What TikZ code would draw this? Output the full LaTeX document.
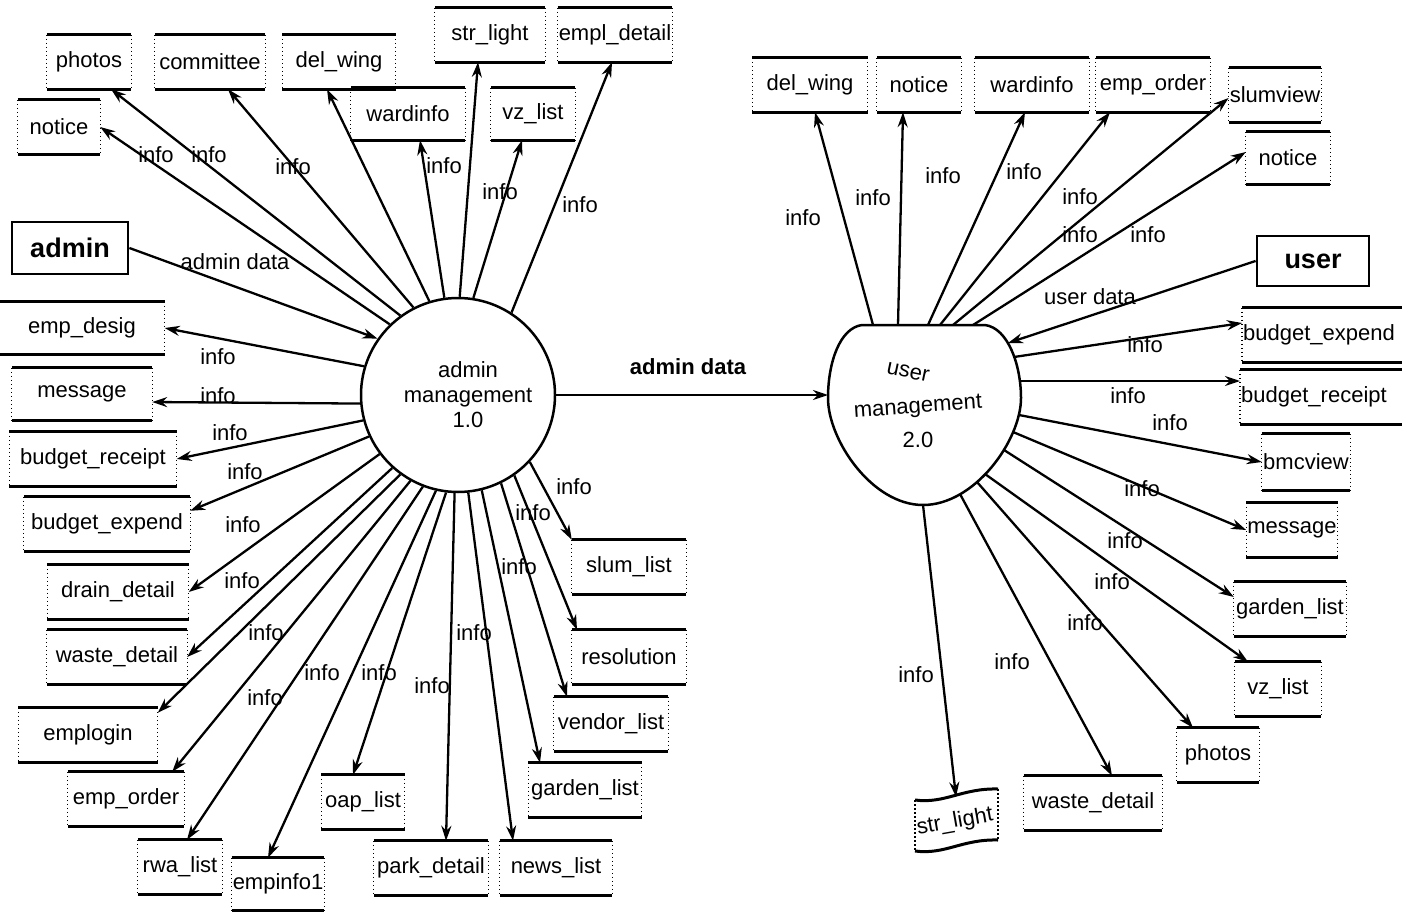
\documentclass[tikz,border=0pt]{standalone}
\usepackage{fontspec}
\setmainfont{Liberation Sans}
\usetikzlibrary{arrows.meta}
\newcommand{\dfont}{\fontsize{22}{25}\selectfont}
\newcommand{\extfont}{\fontsize{27}{30}\selectfont\bfseries}
\begin{document}
\begin{tikzpicture}[x=1pt,y=-1pt,
  storeline/.style={draw, line width=3pt},
  storeside/.style={draw, line width=1.2pt, dash pattern=on 1.5pt off 2.5pt},
  store/.style={font=\dfont, minimum height=54pt, inner xsep=1pt, inner ysep=0pt,
    append after command={
      (\tikzlastnode.north west) edge[storeline] (\tikzlastnode.north east)
      (\tikzlastnode.south west) edge[storeline] (\tikzlastnode.south east)
      (\tikzlastnode.north west) edge[storeside] (\tikzlastnode.south west)
      (\tikzlastnode.north east) edge[storeside] (\tikzlastnode.south east)}},
  ext/.style={draw, line width=2.8pt, font=\extfont, minimum height=52pt, inner sep=0pt},
  flow/.style={draw, line width=2.3pt, -{Stealth[length=15pt,width=10pt]}},
  lbl/.style={font=\dfont, inner sep=0pt}]
\fill[white] (0,0) rectangle (1402,912);
\useasboundingbox (0,0) rectangle (1402,912);

% ---------- admin management ----------
\node[circle, draw, line width=2.5pt, minimum size=194pt, inner sep=0pt] (adm) at (458,395) {};
\node[font=\dfont, align=center, inner sep=0pt] (admtext) at (468,395) {admin\\management\\1.0};

\node[store,minimum width=84pt] (photos) at (89,62) {photos};
\node[store,minimum width=110pt] (committee) at (210,62) {committee};
\node[store,minimum width=113pt] (delwing) at (339,62) {del\_wing};
\node[store,minimum width=110pt] (strlight) at (490,35) {str\_light};
\node[store,minimum width=114pt] (empldetail) at (615,35) {empl\_detail};
\node[store,minimum width=82pt] (notice) at (59,127) {notice};
\node[store,minimum width=114pt,minimum height=52pt] (wardinfo) at (408,114) {wardinfo};
\node[store,minimum width=84pt,minimum height=52pt] (vzlist) at (533,114) {vz\_list};
\node[ext,minimum width=116pt] (admin) at (70,248) {admin};
\node[store,minimum width=165pt,minimum height=52pt] (empdesig) at (82,328) {emp\_desig};
\node[store,minimum width=140pt,minimum height=52pt] (message) at (82,394) {message};
\node[store,minimum width=167pt] (breceipt) at (93,459) {budget\_receipt};
\node[store,minimum width=166pt] (bexpend) at (107,524) {budget\_expend};
\node[store,minimum width=141pt] (drain) at (118,592) {drain\_detail};
\node[store,minimum width=140pt] (waste) at (117,657) {waste\_detail};
\node[store,minimum width=139pt] (emplogin) at (88,735) {emplogin};
\node[store,minimum width=116pt] (emporder) at (126,799) {emp\_order};
\node[store,minimum width=84pt] (rwalist) at (180,867) {rwa\_list};
\node[store,minimum width=88pt,minimum height=52pt] (empinfo) at (278,884) {empinfo1};
\node[store,minimum width=83pt] (oaplist) at (363,802) {oap\_list};
\node[store,minimum width=114pt] (parkdetail) at (431,868) {park\_detail};
\node[store,minimum width=112pt] (newslist) at (556,868) {news\_list};
\node[store,minimum width=113pt] (gardenlist) at (585,790) {garden\_list};
\node[store,minimum width=114pt] (vendorlist) at (611,724) {vendor\_list};
\node[store,minimum width=114pt] (resolution) at (629,657) {resolution};
\node[store,minimum width=114pt] (slumlist) at (629,567) {slum\_list};

\draw[flow] (adm.126) -- ([xshift=22pt]photos.south);
\draw[flow] (adm.134) -- (notice.east);
\draw[flow] (adm.117) -- ([xshift=18pt]committee.south);
\draw[flow] (adm.107) -- ([xshift=-12pt]delwing.south);
\draw[flow] (adm.98) -- ([xshift=12pt]wardinfo.south);
\draw[flow] (adm.89) -- ([xshift=-12pt]strlight.south);
\draw[flow] (adm.81) -- ([xshift=-11pt]vzlist.south);
\draw[flow] (adm.57) -- ([xshift=-3pt]empldetail.south);
\draw[flow] (admin.east) -- (adm.145);
\draw[flow] (adm.163) -- (empdesig.east);
\draw[flow] (adm.185) -- ([yshift=-8pt]message.east);
\draw[flow] (adm.195) -- (breceipt.east);
\draw[flow] (adm.205) -- ([yshift=-14pt]bexpend.north east);
\draw[flow] (adm.217) -- (drain.east);
\draw[flow] (adm.228) -- (waste.east);
\draw[flow] (adm.234) -- ([yshift=-5pt]emplogin.north east);
\draw[flow] (adm.241) -- ([xshift=-12pt]emporder.north east);
\draw[flow] (adm.249) -- ([xshift=7pt]rwalist.north);
\draw[flow] (adm.257) -- ([xshift=-10pt]empinfo.north);
\draw[flow] (adm.263) -- ([xshift=-10pt]oaplist.north);
\draw[flow] (adm.268) -- ([xshift=15pt]parkdetail.north);
\draw[flow] (adm.276) -- ([xshift=-43pt]newslist.north);
\draw[flow] (adm.284) -- ([xshift=-45pt]gardenlist.north);
\draw[flow] (adm.296) -- ([xshift=-44pt]vendorlist.north);
\draw[flow] (adm.305) -- ([xshift=-52pt]resolution.north);
\draw[flow] (adm.317) -- (slumlist.north west);

\node[lbl] (la1) at (156,155) {info};
\node[lbl] (la2) at (209,155) {info};
\node[lbl] (la3) at (293,167) {info};
\node[lbl] (la4) at (444,166) {info};
\node[lbl] (la5) at (500,192) {info};
\node[lbl] (la6) at (580,205) {info};
\node[lbl] (la7) at (235,262) {admin data};
\node[lbl] (la8) at (218,357) {info};
\node[lbl] (la9) at (218,396) {info};
\node[lbl] (la10) at (230,433) {info};
\node[lbl] (la11) at (245,472) {info};
\node[lbl] (la12) at (243,525) {info};
\node[lbl] (la13) at (242,581) {info};
\node[lbl] (la14) at (266,633) {info};
\node[lbl] (la15) at (322,673) {info};
\node[lbl] (la16) at (379,673) {info};
\node[lbl] (la17) at (265,698) {info};
\node[lbl] (la18) at (432,686) {info};
\node[lbl] (la19) at (474,633) {info};
\node[lbl] (la20) at (519,567) {info};
\node[lbl] (la21) at (533,513) {info};
\node[lbl] (la22) at (574,487) {info};

% ---------- user management ----------
\draw[line width=2.5pt] (862,325) -- (985,325)
  .. controls (1008,328) and (1021,365) .. (1021,398)
  .. controls (1021,440) and (975,505) .. (923,505)
  .. controls (872,505) and (828,440) .. (828,398)
  .. controls (828,362) and (840,328) .. (862,325) -- cycle;
\node[font=\dfont, rotate=-12, inner sep=0pt] (utext1) at (908,372) {user};
\node[font=\dfont, rotate=4, inner sep=0pt] (utext2) at (918,408) {management};
\node[font=\dfont, inner sep=0pt] (utext3) at (918,440) {2.0};

\coordinate (uleft) at (828,395);
\coordinate (ut1) at (873,325);
\coordinate (ut2) at (898,325);
\coordinate (ut3) at (928,325);
\coordinate (ut4) at (940,325);
\coordinate (ut5) at (953,325);
\coordinate (ut6) at (973,325);
\coordinate (uin) at (1008,343);
\coordinate (ur1) at (1014,357);
\coordinate (ur2) at (1021,381);
\coordinate (ur3) at (1019,415);
\coordinate (ur4) at (1013,432);
\coordinate (ur5) at (1004,450);
\coordinate (ur6) at (985,474);
\coordinate (ur7) at (977,482);
\coordinate (ur8) at (960,494);
\coordinate (ur9) at (923,505);

\node[store,minimum width=115pt] (delwing2) at (810,85) {del\_wing};
\node[store,minimum width=84pt] (notice2) at (919,85) {notice};
\node[store,minimum width=114pt] (wardinfo2) at (1032,85) {wardinfo};
\node[store,minimum width=114pt] (emporder2) at (1153,85) {emp\_order};
\node[store,minimum width=84pt] (slumview) at (1275,95) {slumview};
\node[store,minimum width=84pt,minimum height=52pt] (notice3) at (1288,158) {notice};
\node[ext,minimum width=112pt,minimum height=50pt] (user) at (1313,261) {user};
\node[store,anchor=west,text width=165pt,align=left] (bexpend2) at (1242,335) {budget\_expend};
\node[store,anchor=west,text width=165pt,align=left] (breceipt2) at (1240,397) {budget\_receipt};
\node[store,minimum width=88pt,minimum height=56pt] (bmcview) at (1306,462) {bmcview};
\node[store,minimum width=86pt] (message2) at (1292,530) {message};
\node[store,minimum width=112pt] (garden2) at (1290,609) {garden\_list};
\node[store,minimum width=86pt] (vzlist2) at (1278,689) {vz\_list};
\node[store,minimum width=82pt] (photos2) at (1218,755) {photos};
\node[store,minimum width=138pt] (waste2) at (1093,803) {waste\_detail};

% wavy store str_light
\draw[storeline] (915,800) .. controls (945,804) and (962,788) .. (998,789);
\draw[storeline] (915,851) .. controls (945,855) and (962,839) .. (998,840);
\draw[storeside] (915,800) -- (915,851);
\draw[storeside] (998,789) -- (998,840);
\node[font=\dfont, rotate=10, inner sep=0pt] (strlight2) at (955,822) {str\_light};
\coordinate (sl2top) at (956,797);

\draw[flow] (adm.east) -- (uleft);
\node[font=\dfont\bfseries, inner sep=0pt] (lm) at (688,367) {admin data};

\draw[flow] (ut1) -- ([xshift=5pt]delwing2.south);
\draw[flow] (ut2) -- ([xshift=-16pt]notice2.south);
\draw[flow] (ut3) -- ([xshift=-7pt]wardinfo2.south);
\draw[flow] (ut4) -- ([xshift=-43pt]emporder2.south);
\draw[flow] (ut5) -- ([yshift=-3pt]slumview.west);
\draw[flow] (ut6) -- ([yshift=6pt]notice3.west);
\draw[flow] (user.west) -- (uin);
\draw[flow] (ur1) -- ([yshift=12pt]bexpend2.west);
\draw[flow] (ur2) -- ([yshift=16pt]breceipt2.west);
\draw[flow] (ur3) -- (bmcview.west);
\draw[flow] (ur4) -- (message2.west);
\draw[flow] (ur5) -- ([yshift=12pt]garden2.west);
\draw[flow] (ur6) -- ([xshift=-30pt]vzlist2.north);
\draw[flow] (ur7) -- ([xshift=-25pt]photos2.north);
\draw[flow] (ur8) -- ([xshift=19pt]waste2.north);
\draw[flow] (ur9) -- (sl2top);

\node[lbl] (lb1) at (803,218) {info};
\node[lbl] (lb2) at (873,198) {info};
\node[lbl] (lb3) at (943,176) {info};
\node[lbl] (lb4) at (1024,172) {info};
\node[lbl] (lb5) at (1080,197) {info};
\node[lbl] (lb6) at (1080,235) {info};
\node[lbl] (lb7) at (1148,235) {info};
\node[lbl] (lb8) at (1090,297) {user data};
\node[lbl] (lb9) at (1145,345) {info};
\node[lbl] (lb10) at (1128,396) {info};
\node[lbl] (lb11) at (1170,423) {info};
\node[lbl] (lb12) at (1142,489) {info};
\node[lbl] (lb13) at (1125,541) {info};
\node[lbl] (lb14) at (1112,582) {info};
\node[lbl] (lb15) at (1085,623) {info};
\node[lbl] (lb16) at (1012,662) {info};
\node[lbl] (lb17) at (916,675) {info};
\end{tikzpicture}
\end{document}
